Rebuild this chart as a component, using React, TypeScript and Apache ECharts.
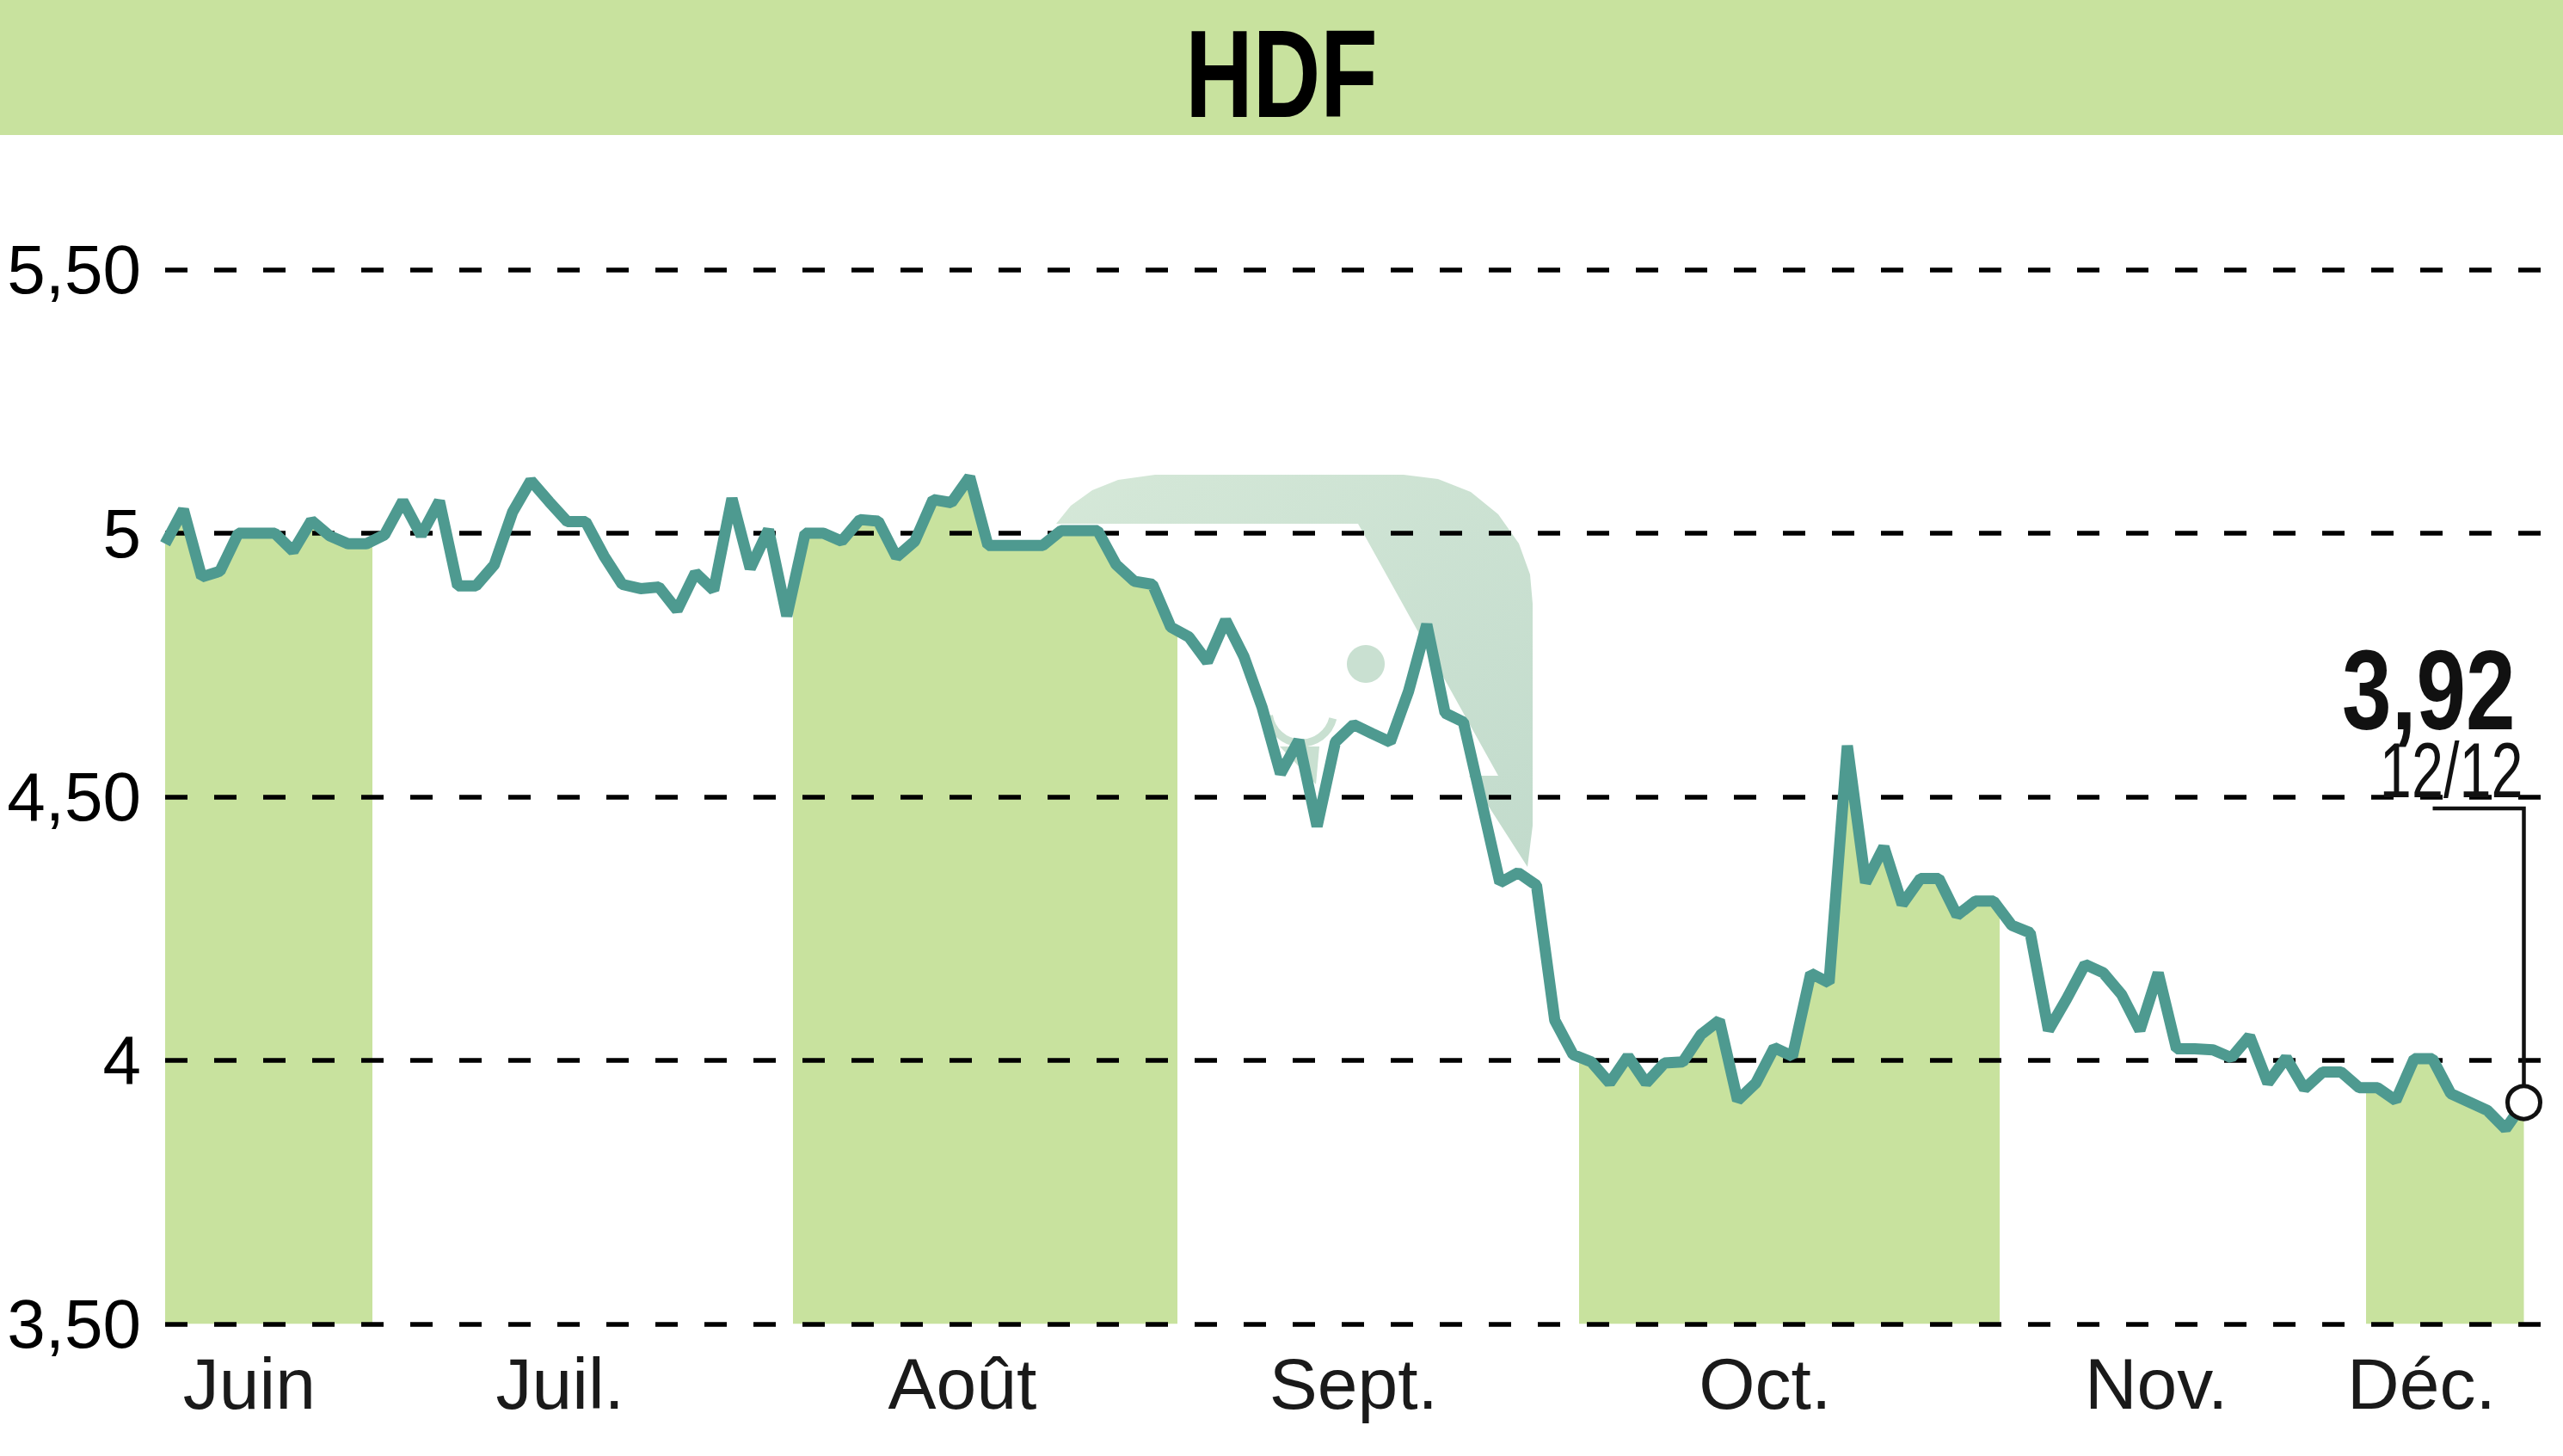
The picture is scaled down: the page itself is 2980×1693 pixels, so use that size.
import React, { useEffect, useRef } from "react";
import * as echarts from "echarts";

// ---------- data ----------
const chartTitle = "HDF";

// daily closing prices (mid-June -> 12 December)
const prices: number[] = [
  4.98, 5.045, 4.917, 4.928, 5.0, 5.0, 5.0, 4.966, 5.024, 4.995, 4.98, 4.98,
  4.997, 5.061, 4.996, 5.061, 4.9, 4.9, 4.94, 5.04, 5.1, 5.06, 5.022, 5.022,
  4.957, 4.903, 4.895, 4.898, 4.854, 4.925, 4.892, 5.066, 4.933, 5.007, 4.843,
  5.0, 5.0, 4.985, 5.026, 5.023, 4.955, 4.985, 5.064, 5.058, 5.107, 4.977,
  4.977, 4.977, 4.977, 5.005, 5.005, 5.005, 4.941, 4.909, 4.903, 4.822,
  4.803, 4.756, 4.835, 4.766, 4.669, 4.544, 4.607, 4.444, 4.604, 4.637, 4.62,
  4.604, 4.7, 4.827, 4.659, 4.642, 4.49, 4.337, 4.356, 4.332, 4.076, 4.011,
  3.997, 3.957, 4.008, 3.957, 3.995, 3.997, 4.049, 4.076, 3.924, 3.957, 4.024,
  4.008, 4.165, 4.147, 4.597, 4.337, 4.405, 4.296, 4.345, 4.345, 4.275, 4.302,
  4.302, 4.256, 4.242, 4.057, 4.117, 4.182, 4.166, 4.125, 4.057, 4.166, 4.022,
  4.022, 4.02, 4.005, 4.046, 3.957, 4.005, 3.946, 3.978, 3.978, 3.948, 3.948,
  3.924, 4.003, 4.003, 3.937, 3.921, 3.905, 3.87, 3.92,
];

const monthNames = ["Juin", "Juil.", "Août", "Sept.", "Oct.", "Nov.", "Déc."];
const monthStartIndex = [0, 12, 35, 56, 78, 101, 121];
const monthShaded = [true, false, true, false, true, false, true];
const monthLabelAt = [4.6, 21.6, 43.6, 65.0, 87.5, 108.9, 123.4];

const yMin = 3.5;
const yMax = 5.5;
const yStep = 0.5;

const lastPriceText = "3,92";
const lastDateText = "12/12";

// ---------- style ----------
const W = 2980;
const H = 1693;
const FONT = "'Liberation Sans', Arial, sans-serif";
const GREEN = "#c8e29e";
const TEAL = "#4e9a90";
const PALE = "#c9e0d1";

function fmtY(v: number): string {
  return Number.isInteger(v) ? String(v) : v.toFixed(2).replace(".", ",");
}

export default function App() {
  const ref = useRef<HTMLDivElement>(null);

  useEffect(() => {
    document.body.style.margin = "0";
    const el = ref.current;
    if (!el) return;
    const chart = echarts.init(el, undefined, { renderer: "svg", width: W, height: H });

    const points = prices.map((v, i) => [i, v]);
    const last = points.length - 1;

    const BOUND_SHIFT = 0.65;
    const pieces = monthStartIndex.map((s, k) => {
      const p: any = { color: monthShaded[k] ? GREEN : "rgba(255,255,255,0)" };
      if (k > 0) p.gte = s - BOUND_SHIFT;
      if (k < monthStartIndex.length - 1) p.lt = monthStartIndex[k + 1] - BOUND_SHIFT;
      return p;
    });

    const baseGraphic: any[] = [
      {
        id: "title-band",
        type: "rect",
        z: 0,
        silent: true,
        shape: { x: 0, y: 0, width: W, height: 157 },
        style: { fill: GREEN },
      },
      {
        id: "title-text",
        type: "text",
        z: 6,
        silent: true,
        x: W / 2,
        y: 86,
        scaleX: 0.75,
        style: {
          text: chartTitle,
          fontSize: 145,
          lineHeight: 145,
          fontWeight: "bold",
          fontFamily: FONT,
          fill: "#000",
          align: "center",
          verticalAlign: "middle",
        },
      },
      {
        id: "logo-frame",
        type: "polygon",
        z: 1,
        silent: true,
        shape: {
          points: [
            [1228, 609], [1245, 588], [1270, 570], [1300, 558], [1343, 552], [1632, 552],
            [1672, 557], [1710, 572], [1742, 598], [1766, 632], [1779, 668], [1782, 702],
            [1782, 960], [1776, 1008], [1708, 902], [1742, 902], [1579, 609],
          ],
        },
        style: {
          fill: new echarts.graphic.LinearGradient(0, 0, 1, 1, [
            { offset: 0, color: "#d5e8d8" },
            { offset: 1, color: "#c2dbcc" },
          ]),
        },
      },
      {
        id: "logo-dot",
        type: "circle",
        z: 1,
        silent: true,
        shape: { cx: 1588, cy: 772, r: 22 },
        style: { fill: PALE },
      },
      {
        id: "logo-arc",
        type: "arc",
        z: 1,
        silent: true,
        shape: { cx: 1513, cy: 826, r: 38, startAngle: 0.08 * Math.PI, endAngle: 0.95 * Math.PI, clockwise: true },
        style: { stroke: PALE, lineWidth: 9, fill: null },
      },
      {
        id: "logo-tri",
        type: "polygon",
        z: 1,
        silent: true,
        shape: { points: [[1488, 868], [1534, 868], [1530, 912]] },
        style: { fill: PALE },
      },
    ];

    const option: any = {
      animation: false,
      backgroundColor: "#ffffff",
      grid: {
        left: 192,
        right: 0,
        top: 313.6,
        bottom: H - 1539.4,
        containLabel: false,
        outerBoundsMode: "none",
      },
      xAxis: {
        type: "value",
        min: 0,
        max: 131.14,
        axisLine: { show: false },
        axisTick: { show: false },
        splitLine: { show: false },
        axisLabel: {
          customValues: monthLabelAt,
          formatter: (v: number) => {
            const k = monthLabelAt.findIndex((m) => Math.abs(m - v) < 1e-6);
            return k >= 0 ? monthNames[k] : "";
          },
          fontSize: 84,
          fontFamily: FONT,
          color: "#1a1a1a",
          margin: 28,
        },
      },
      yAxis: {
        type: "value",
        min: yMin,
        max: yMax,
        interval: yStep,
        z: 3,
        axisLine: { show: false },
        axisTick: { show: false },
        splitLine: { show: true, lineStyle: { color: "#000", width: 5.5, type: [26, 31] } },
        axisLabel: { formatter: fmtY, fontSize: 80, fontFamily: FONT, color: "#000", margin: 28 },
      },
      visualMap: {
        type: "piecewise",
        show: false,
        dimension: 0,
        seriesIndex: 0,
        pieces,
      },
      series: [
        {
          type: "line",
          z: 2,
          silent: true,
          symbol: "none",
          data: points,
          lineStyle: { width: 0, opacity: 0 },
          areaStyle: { opacity: 1, origin: "start" },
        },
        {
          type: "line",
          z: 4,
          silent: true,
          symbol: "none",
          showSymbol: true,
          data: points.map((p, i) =>
            i === last
              ? {
                  value: p,
                  symbol: "circle",
                  symbolSize: 38,
                  itemStyle: { color: "#ffffff", borderColor: "#111", borderWidth: 5, opacity: 1 },
                }
              : p
          ),
          lineStyle: { color: TEAL, width: 13, join: "bevel" },
        },
      ],
      graphic: baseGraphic,
    };

    chart.setOption(option);

    const pt = chart.convertToPixel({ xAxisIndex: 0, yAxisIndex: 0 }, points[last]) as number[];
    chart.setOption({
      graphic: [
        ...baseGraphic,
        {
          id: "leader",
          type: "polyline",
          z: 10,
          silent: true,
          shape: { points: [[pt[0] - 106, 940], [pt[0], 940], [pt[0], pt[1] - 20]] },
          style: { stroke: "#111", lineWidth: 4.5, fill: null },
        },
        {
          id: "last-price",
          type: "text",
          z: 10,
          silent: true,
          x: pt[0] - 10,
          y: 803,
          scaleX: 0.79,
          style: {
            text: lastPriceText,
            fontSize: 131,
            lineHeight: 100,
            fontWeight: "bold",
            fontFamily: FONT,
            fill: "#111",
            align: "right",
            verticalAlign: "middle",
          },
        },
        {
          id: "last-date",
          type: "text",
          z: 10,
          silent: true,
          x: pt[0] - 1,
          y: 896,
          scaleX: 0.74,
          style: {
            text: lastDateText,
            fontSize: 90,
            lineHeight: 70,
            fontFamily: FONT,
            fill: "#111",
            align: "right",
            verticalAlign: "middle",
          },
        },
      ],
    });

    return () => {
      chart.dispose();
    };
  }, []);

  return (
    <div
      ref={ref}
      style={{ position: "absolute", left: 0, top: 0, width: W, height: H, background: "#fff" }}
    />
  );
}
